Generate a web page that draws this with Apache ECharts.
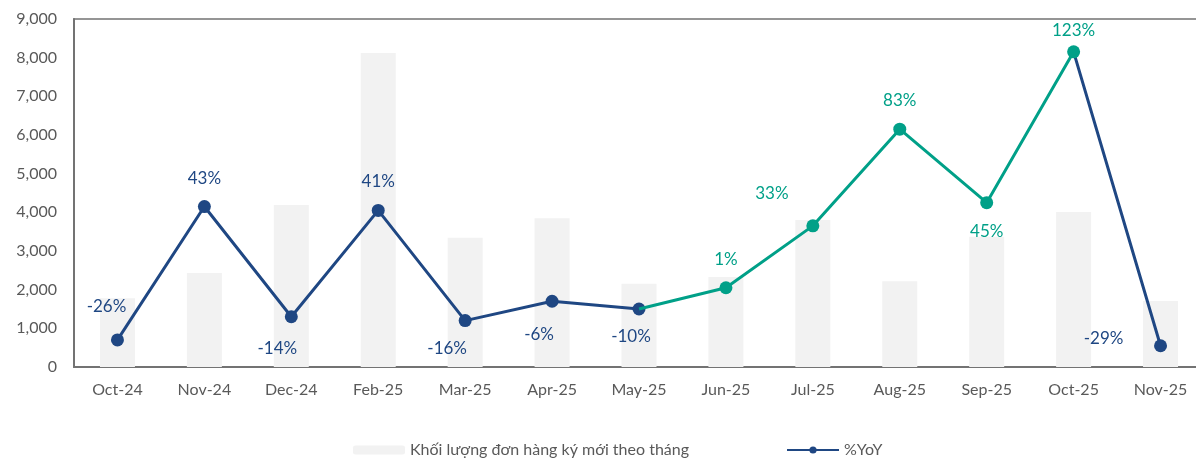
<!DOCTYPE html>
<html>
<head>
<meta charset="utf-8">
<style>
  html, body { margin: 0; padding: 0; background: #ffffff; overflow: hidden; }
  #chart { width: 1210px; height: 458px; }
</style>
<script src="https://cdn.jsdelivr.net/npm/echarts@6/dist/echarts.min.js"></script>
</head>
<body>
<div id="chart"></div>
<script>
// Monthly new-order volume and year-over-year change
const categories = ['Oct-24', 'Nov-24', 'Dec-24', 'Feb-25', 'Mar-25', 'Apr-25', 'May-25',
                    'Jun-25', 'Jul-25', 'Aug-25', 'Sep-25', 'Oct-25', 'Nov-25'];
const volume = [1780, 2430, 4190, 8120, 3340, 3850, 2150, 2330, 3800, 2220, 3370, 4010, 1710];
const yoy = [-26, 43, -14, 41, -16, -6, -10, 1, 33, 83, 45, 123, -29];
// Stretch of months drawn in the accent colour (segment from May-25 through Oct-25)
const accentFrom = 6;
const accentTo = 11;

const barName = 'Khối lượng đơn hàng ký mới theo tháng';
const lineName = '%YoY';

const NAVY = '#1f4783';
const TEAL = '#00a088';
const FONT = 'Lato, "Noto Sans", sans-serif';

// label placement relative to each point (px)
const labelOffsets = [[-11, -33], [0, -28], [-14, 32], [0, -29], [-18, 28], [-13, 33], [-8, 28],
                      [0, -28], [-41, -32], [0, -29], [0, 29], [0, -21], [-57, -7]];

function point(i, color, showPoint) {
  return {
    value: yoy[i],
    symbol: showPoint ? 'circle' : 'none',
    itemStyle: { color: color },
    label: {
      show: showPoint,
      position: 'inside',
      offset: labelOffsets[i],
      color: color,
      fontSize: 17,
      fontFamily: FONT,
      formatter: (p) => p.value + '%'
    }
  };
}

const navyData = yoy.map((v, i) => {
  if (i <= accentFrom) return point(i, NAVY, true);
  if (i >= accentTo) return point(i, NAVY, i !== accentTo);
  return '-';
});
const tealData = yoy.map((v, i) => {
  if (i >= accentFrom && i <= accentTo) return point(i, TEAL, i !== accentFrom);
  return '-';
});

const chart = echarts.init(document.getElementById('chart'), null, { renderer: 'canvas' });
chart.setOption({
  animation: false,
  backgroundColor: '#ffffff',
  grid: {
    left: 74, right: 6, top: 19, bottom: 91,
    show: true, borderColor: '#737373', borderWidth: 1.5
  },
  legend: {
    data: [barName, lineName],
    left: 348, top: 437,
    itemWidth: 52, itemHeight: 9, itemGap: 97,
    textStyle: { color: '#595959', fontSize: 16, fontFamily: FONT }
  },
  xAxis: {
    type: 'category',
    data: categories,
    axisLine: { lineStyle: { color: '#737373', width: 2 } },
    axisTick: { show: false },
    axisLabel: { color: '#595959', fontSize: 16, fontFamily: FONT, margin: 15 }
  },
  yAxis: [
    {
      type: 'value', min: 0, max: 9000, interval: 1000,
      axisLine: { show: true, lineStyle: { color: '#737373', width: 2 } },
      axisTick: { show: false },
      splitLine: { show: false },
      axisLabel: {
        color: '#595959', fontSize: 16, fontFamily: FONT, margin: 17,
        formatter: (v) => v.toLocaleString('en-US')
      }
    },
    {
      type: 'value', min: -40, max: 140, show: false,
      splitLine: { show: false }
    }
  ],
  series: [
    {
      name: barName,
      type: 'bar',
      data: volume,
      barWidth: 35,
      itemStyle: { color: '#f2f2f2' },
      z: 1
    },
    {
      name: lineName,
      type: 'line',
      yAxisIndex: 1,
      data: navyData,
      color: NAVY,
      symbol: 'circle',
      symbolSize: 13,
      lineStyle: { color: NAVY, width: 3 },
      connectNulls: false,
      z: 3
    },
    {
      name: 'accent',
      type: 'line',
      yAxisIndex: 1,
      data: tealData,
      color: TEAL,
      symbol: 'circle',
      symbolSize: 13,
      lineStyle: { color: TEAL, width: 3 },
      connectNulls: false,
      z: 4
    }
  ]
});
</script>
</body>
</html>
